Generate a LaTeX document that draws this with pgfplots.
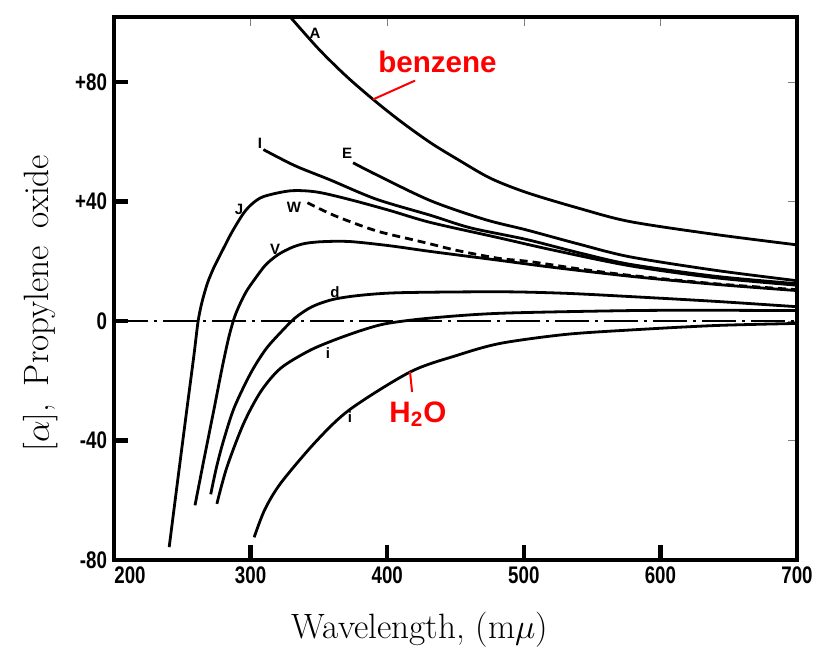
\documentclass[border=0pt]{standalone}
\usepackage{pgfplots}
\pgfplotsset{compat=1.18}
\usepackage{graphicx}
\usepackage{fontspec}
\setsansfont{Liberation Sans}
\definecolor{annred}{RGB}{255,0,0}
\newcommand\tl[1]{\scalebox{0.78}[1]{#1}}
\begin{document}
\begin{tikzpicture}
\begin{axis}[
  scale only axis, width=341.5pt, height=271.5pt,
  xmin=200, xmax=700, ymin=-80, ymax=101.8,
  axis line style={line width=2pt},
  xtick={200,300,400,500,600,700},
  xticklabels={\hspace*{16pt}\tl{200},\tl{300},\tl{400},\tl{500},\tl{600},\tl{700}},
  ytick={-80,-40,0,40,80},
  yticklabels={\tl{-80},\tl{-40},\tl{0},\tl{+40},\tl{+80}},
  tick align=inside,
  ticklabel style={font=\fontsize{12}{14}\selectfont\sffamily\bfseries},
  xlabel={Wavelength, (m$\mu$)},
  xlabel style={font=\fontsize{17.6}{20}\selectfont, at={(axis description cs:0.448,-0.129)}, anchor=center},
  ylabel={$[\alpha]$,\hspace{0.5em}Propylene\hspace{0.5em}oxide},
  ylabel style={font=\fontsize{17.6}{20}\selectfont, at={(axis description cs:-0.108,0.473)}, anchor=center},
  clip=false,
]
% zero line
\addplot[black, line width=1pt, dash pattern=on 17pt off 3pt on 1.5pt off 3pt] coordinates {(200,0) (700,0)};
% A (benzene)
\addplot[black, line width=1.4pt, smooth, tension=0.5] coordinates {
(329.6,101.5) (350,91) (370,82) (390.2,74) (410,66.8) (431.7,59.7) (452,54) (475.6,47.8) (502.2,43) (540,37.8) (577.7,33.3) (640,29) (700,25.5)};
% E
\addplot[black, line width=1.4pt, smooth, tension=0.5] coordinates {
(375,53) (392,49) (431.7,40.3) (471.5,34) (502,30.5) (540,25.8) (577.7,21.5) (640,17) (700,13.5)};
% I
\addplot[black, line width=1.4pt, smooth, tension=0.5] coordinates {
(309.4,57.4) (332.5,52) (358,47.3) (392,40.8) (431.7,35.4) (461,31.2) (502,27.3) (540,22.9) (577.7,19) (640,15) (700,12.5)};
% J
\addplot[black, line width=1.4pt, smooth, tension=0.5] coordinates {
(240.4,-75.7) (247,-52) (253.5,-29) (258.5,-11.5) (261.6,0) (264.5,6.5) (268.5,12.8) (273,17.8) (277.6,22) (286,29.5) (294.7,36) (301,39.2) (309.6,41.7) (329.2,43.6) (348.5,43.2) (373.2,40.6) (402,37) (431.7,33) (480.5,28) (521,23.8) (577.7,18.5) (640,14.5) (700,12)};
% W (dashed)
\addplot[black, line width=1.4pt, smooth, tension=0.5, dash pattern=on 4pt off 2.5pt] coordinates {
(341.6,39.6) (362,35.2) (392,30.2) (419,27.2) (431.7,25.8) (451.5,23.6) (481.5,21) (504.5,19.9) (540,17.5) (577.7,15.3) (640,12.5) (700,10.5)};
% V
\addplot[black, line width=1.4pt, smooth, tension=0.5] coordinates {
(259.3,-61.7) (266,-46) (273,-30) (279,-16) (284,-5.5) (288,1) (292,5.5) (297,10) (303,14) (311,18.8) (320,22.2) (330,24.6) (340,26) (353.6,26.6) (373.2,26.6) (402,25.2) (431.7,23.3) (482.5,20.3) (521,18) (577.7,15) (640,12.3) (700,10.2)};
% d
\addplot[black, line width=1.4pt, smooth, tension=0.5] coordinates {
(270.8,-58) (275,-49) (280.2,-40) (288,-29) (300,-17.5) (311,-9.5) (322,-3.8) (333,1.2) (345,4.8) (360,7.2) (380,8.6) (410,9.5) (482.5,9.8) (530,9.3) (577.7,8.2) (640,6.6) (700,4.8)};
% i (upper)
\addplot[black, line width=1.4pt, smooth, tension=0.5] coordinates {
(275.3,-61.2) (282.6,-49) (294.9,-34.3) (307.6,-23.5) (322,-15.8) (342.6,-10) (361,-6.4) (382,-3) (400,-0.8) (431.7,1) (482.5,2.6) (577.7,3.5) (640,3.6) (700,3.5)};
% i (lower, H2O)
\addplot[black, line width=1.4pt, smooth, tension=0.5] coordinates {
(302.6,-72.4) (310.5,-63) (322.5,-54) (348.5,-40) (373,-29.5) (417,-17) (451,-11.5) (482.5,-7.5) (530,-4.5) (577.7,-3) (640,-1.5) (700,-0.8)};
% tick marks (inside, bottom and left only)
\addplot[black, line width=2.2pt, forget plot] coordinates {(300,-80) (300,-75)};
\addplot[black, line width=2.2pt, forget plot] coordinates {(400,-80) (400,-75)};
\addplot[black, line width=2.2pt, forget plot] coordinates {(500,-80) (500,-75)};
\addplot[black, line width=2.2pt, forget plot] coordinates {(600,-80) (600,-75)};
\addplot[black, line width=2.2pt, forget plot] coordinates {(200,80) (210.5,80)};
\addplot[black, line width=2.2pt, forget plot] coordinates {(200,40) (210.5,40)};
\addplot[black, line width=2.2pt, forget plot] coordinates {(200,0) (210.5,0)};
\addplot[black, line width=2.2pt, forget plot] coordinates {(200,-40) (210.5,-40)};
% curve letters
\begin{scope}[every node/.style={font=\fontsize{7.5}{8}\selectfont\sffamily\bfseries, inner sep=0pt}]
\node at (axis cs:347.1,96.4) {A};
\node at (axis cs:306.9,59.6) {I};
\node at (axis cs:370.6,56.2) {E};
\node at (axis cs:291.5,37.5) {J};
\node at (axis cs:331.8,38.2) {W};
\node at (axis cs:317.9,24.1) {V};
\node at (axis cs:361.8,9.7) {d};
\node at (axis cs:356.7,-10.7) {i};
\node at (axis cs:372.8,-32.1) {i};
\end{scope}
% red annotations
\draw[annred, line width=1pt] (axis cs:389.6,74.2) -- (axis cs:420.4,80.5);
\node[annred, anchor=base, inner sep=0pt, font=\fontsize{14.8}{16}\selectfont\sffamily\bfseries] at (axis cs:436.8,83.1) {benzene};
\draw[annred, line width=1pt] (axis cs:416.7,-17) -- (axis cs:418.2,-23.7);
\node[annred, anchor=base, inner sep=0pt, font=\fontsize{14.8}{16}\selectfont\sffamily\bfseries] at (axis cs:422.5,-33.9) {H\textsubscript{2}O};
% bounding box
\path (rel axis cs:-0.1669,-0.1842) rectangle (rel axis cs:1.0351,1.0313);
\end{axis}
\end{tikzpicture}
\end{document}
